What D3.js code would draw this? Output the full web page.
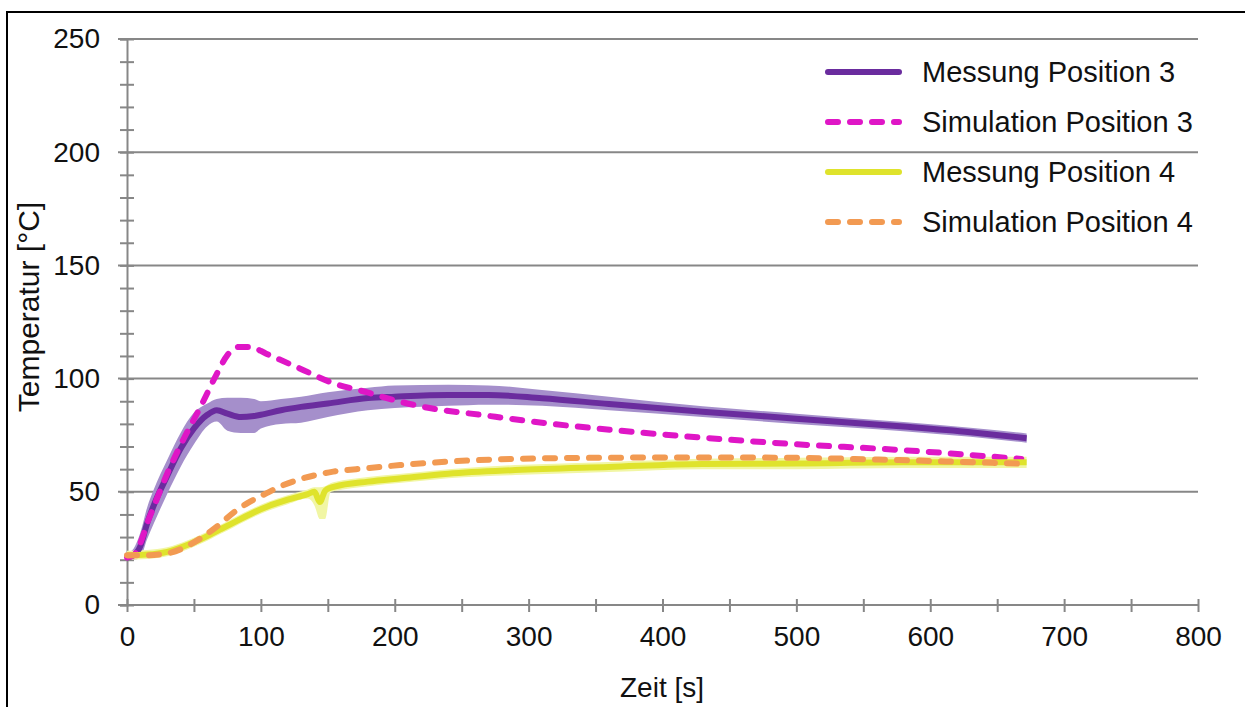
<!DOCTYPE html>
<html>
<head>
<meta charset="utf-8">
<script src="https://cdn.jsdelivr.net/npm/d3@7"></script>
<style>
  body { margin: 0; background: #fff; }
  svg { display: block; font-family: 'Liberation Sans', Arial, sans-serif; }
</style>
</head>
<body>
<svg width="1245" height="707"></svg>
<script>
'use strict';

// Messung Position 3: time, mean, band low, band high
const mess3 = [
  [0, 21, 20, 23], [5, 22, 20, 25], [10, 26, 21, 32], [15, 36, 29, 43],
  [20, 44, 36, 51], [30, 57, 49, 64], [40, 69, 61, 76], [50, 78, 71, 85],
  [60, 84, 79, 89], [67, 86, 81, 91], [75, 84.5, 77, 91.5], [85, 83, 76, 91.5],
  [95, 83.5, 76, 91], [100, 84, 78, 90], [115, 86, 80, 91], [130, 87.5, 80.5, 92],
  [150, 89, 83, 94], [180, 91.4, 86, 96], [200, 92, 87, 97], [240, 92.8, 88, 97.3],
  [270, 92.8, 88.5, 97], [310, 91.3, 88, 95], [360, 88.8, 86, 92], [430, 85.4, 83, 87.8],
  [500, 82.3, 80, 84.5], [580, 78.8, 76.8, 80.8], [630, 76.3, 74.3, 78.3], [672, 73.7, 71.7, 75.8]
];

const sim3 = [
  [0, 21], [5, 22], [17, 39], [30, 58], [42, 73], [55, 87.6], [67, 102], [75, 110.4],
  [84, 114], [92, 114], [104, 111], [129, 104.5], [154, 98], [179, 94], [204, 89.8],
  [226, 87], [264, 84], [313, 80.3], [363, 77.3], [428, 74], [500, 71], [577, 68.5], [668, 64.5]
];

// Messung Position 4: time, mean, band low, band high
const mess4 = [
  [0, 22, 20, 24], [15, 22.3, 20.3, 24.3], [30, 23.5, 21.5, 25.5], [45, 26.5, 24.5, 28.5],
  [55, 29, 27, 31], [70, 33.5, 31.5, 35.5], [80, 36.5, 34.5, 38.5], [95, 41, 39, 43],
  [105, 43.5, 41.5, 45.5], [120, 46.5, 44.5, 48.5], [135, 49, 47, 51], [140, 50, 44, 52],
  [144, 45.5, 38, 52], [148, 50.5, 38, 52.5], [152, 51.8, 49.8, 53.8], [155, 52.3, 50.3, 54.3],
  [180, 54.5, 52.5, 56.5], [205, 56, 54, 58], [240, 58, 56, 60], [290, 59.6, 57.4, 61.8],
  [360, 61, 58.8, 63.2], [430, 62.3, 60, 64.6], [500, 62.5, 60, 65], [580, 63, 60.5, 65.5],
  [672, 63, 60.5, 65.5]
];

const sim4 = [
  [0, 22], [15, 22], [30, 22.8], [45, 26], [55, 29.5], [70, 36], [80, 41], [90, 45],
  [104, 49.3], [115, 52.5], [129, 55.5], [154, 58.9], [179, 60.4], [204, 61.8],
  [239, 63.3], [313, 64.8], [428, 65.2], [500, 65], [577, 64], [673, 62.3]
];

const legendNames = ['Messung Position 3', 'Simulation Position 3', 'Messung Position 4', 'Simulation Position 4'];
const lineColors = ['#6a2c9e', '#df16c6', '#dfe32c', '#f29a52'];
const bandColors = ['#a58fcb', null, '#f1f6a4', null];

const svg = d3.select('svg');

// frame around the whole figure (cropped at right/bottom)
svg.append('rect')
  .attr('x', 7).attr('y', 12)
  .attr('width', 1400).attr('height', 900)
  .attr('fill', 'none')
  .attr('stroke', '#000')
  .attr('stroke-width', 2);

const x = d3.scaleLinear().domain([0, 800]).range([127, 1198]);
const y = d3.scaleLinear().domain([0, 250]).range([605, 39]);
const gray = '#878787';

// horizontal grid
svg.append('g')
  .selectAll('line')
  .data([50, 100, 150, 200, 250])
  .join('line')
  .attr('x1', 118).attr('x2', x(800))
  .attr('y1', d => y(d)).attr('y2', d => y(d))
  .attr('stroke', gray)
  .attr('stroke-width', 2);

// y axis: minor ticks every 10, labels every 50
const yAxis = svg.append('g')
  .attr('transform', `translate(${x(0)},0)`)
  .call(d3.axisLeft(y)
    .tickValues(d3.range(0, 251, 10))
    .tickSize(7)
    .tickPadding(20)
    .tickFormat(d => d % 50 === 0 ? d : ''));
yAxis.select('.domain').attr('stroke', gray).attr('stroke-width', 2);
yAxis.selectAll('.tick line').attr('x2', -7).attr('x1', 7)
  .attr('stroke', gray).attr('stroke-width', 2);
yAxis.selectAll('.tick text')
  .attr('font-size', 28)
  .attr('font-family', 'Liberation Sans, Arial, sans-serif')
  .attr('fill', '#111');

// x axis: ticks every 50, labels every 100
const xAxis = svg.append('g')
  .attr('transform', `translate(0,${y(0)})`)
  .call(d3.axisBottom(x)
    .tickValues(d3.range(0, 801, 50))
    .tickSize(7)
    .tickPadding(14)
    .tickFormat(d => d % 100 === 0 ? d : ''));
xAxis.select('.domain').remove();
xAxis.append('line')
  .attr('x1', 118).attr('x2', x(800))
  .attr('stroke', gray).attr('stroke-width', 2);
xAxis.selectAll('.tick line').attr('y1', -6).attr('y2', 7)
  .attr('stroke', gray).attr('stroke-width', 2);
xAxis.selectAll('.tick text')
  .attr('font-size', 28)
  .attr('font-family', 'Liberation Sans, Arial, sans-serif')
  .attr('fill', '#111');

// axis titles
svg.append('text')
  .attr('x', 662).attr('y', 697)
  .attr('text-anchor', 'middle')
  .attr('font-size', 28)
  .attr('fill', '#111')
  .text('Zeit [s]');

svg.append('text')
  .attr('transform', 'translate(39,307) rotate(-90)')
  .attr('text-anchor', 'middle')
  .attr('font-size', 30)
  .attr('fill', '#111')
  .text('Temperatur [°C]');

// bands
const band = d3.area()
  .x(d => x(d[0]))
  .y0(d => y(d[2]))
  .y1(d => y(d[3]))
  .curve(d3.curveMonotoneX);

svg.append('path').datum(mess3).attr('d', band).attr('fill', bandColors[0]);
svg.append('path').datum(mess4).attr('d', band).attr('fill', bandColors[2]);

// lines
const line = d3.line()
  .x(d => x(d[0]))
  .y(d => y(d[1]))
  .curve(d3.curveMonotoneX);

const series = [mess3, sim3, mess4, sim4];
series.forEach((s, i) => {
  svg.append('path')
    .datum(s)
    .attr('d', line)
    .attr('fill', 'none')
    .attr('stroke', lineColors[i])
    .attr('stroke-width', 6)
    .attr('stroke-linecap', i % 2 ? 'round' : 'butt')
    .attr('stroke-dasharray', i % 2 ? '10,12' : null);
});

// legend
const legend = svg.append('g');
legendNames.forEach((name, i) => {
  const ly = 72 + i * 50;
  legend.append('line')
    .attr('x1', 828).attr('x2', 899)
    .attr('y1', ly).attr('y2', ly)
    .attr('stroke', lineColors[i])
    .attr('stroke-width', 6)
    .attr('stroke-linecap', 'round')
    .attr('stroke-dasharray', i % 2 ? '10,12' : null);
  legend.append('text')
    .attr('x', 922).attr('y', ly + 10)
    .attr('font-size', 29)
    .attr('fill', '#111')
    .text(name);
});
</script>
</body>
</html>
